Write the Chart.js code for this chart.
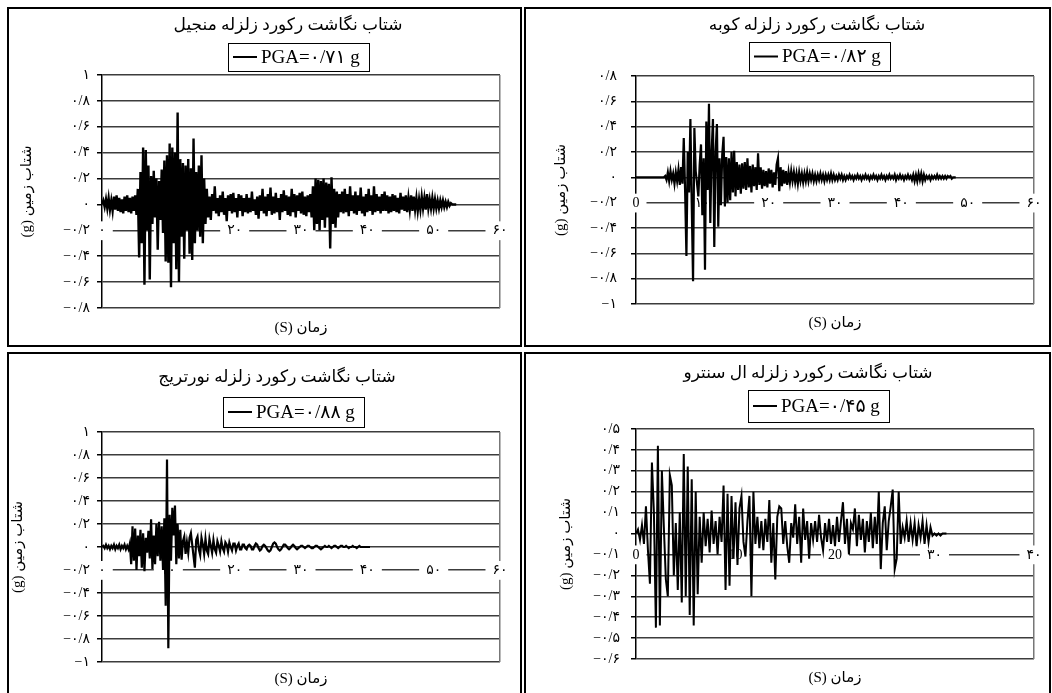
<!DOCTYPE html>
<html lang="fa">
<head>
<meta charset="utf-8">
<title>شتاب نگاشت رکوردهای زلزله</title>
<script src="https://cdn.jsdelivr.net/npm/chart.js@4.4.1/dist/chart.umd.min.js"></script>
<style>
  html, body { margin: 0; padding: 0; background: #fff; }
  body { width: 1052px; height: 693px; position: relative; overflow: hidden; }
  .panel { position: absolute; border: 2px solid #000; background: #fff; }
  .panel canvas { display: block; }
</style>
</head>
<body>
<div class="panel" style="left:7px;top:7px;width:511px;height:336px"><canvas id="chartManjil" width="511" height="336"></canvas></div>
<div class="panel" style="left:524px;top:7px;width:523px;height:336px"><canvas id="chartKobe" width="523" height="336"></canvas></div>
<div class="panel" style="left:7px;top:352px;width:511px;height:339px"><canvas id="chartNorthridge" width="511" height="339"></canvas></div>
<div class="panel" style="left:524px;top:352px;width:523px;height:339px"><canvas id="chartElCentro" width="523" height="339"></canvas></div>

<script>
// =================== DATOS ===================
// Aceleración del suelo (g), un valor cada "paso" segundos, leídos a ojo de la figura

const tituloManjil = 'شتاب نگاشت رکورد زلزله منجیل';
const leyendaManjil = 'PGA=۰/۷۱ g';
const pasoManjil = 0.2;
const aceleracionManjil = [
  0, 0.03, -0.02, 0.04, -0.03, 0.05, -0.04, 0.03, -0.05, 0.06,
  -0.04, 0.07, -0.05, 0.05, -0.06, 0.04, -0.07, 0.06, -0.05, 0.07,
  -0.06, 0.05, -0.07, 0.06, -0.05, 0.07, -0.08, 0.12, -0.41, 0.25,
  -0.3, 0.44, -0.62, 0.42, -0.2, 0.3, -0.58, 0.22, -0.15, 0.26,
  -0.1, 0.2, -0.35, 0.18, -0.12, 0.27, -0.22, 0.34, -0.44, 0.38,
  -0.45, 0.47, -0.64, 0.44, -0.3, 0.4, -0.5, 0.71, -0.6, 0.35,
  -0.25, 0.32, -0.42, 0.3, -0.2, 0.35, -0.38, 0.28, -0.43, 0.51,
  -0.3, 0.25, -0.2, 0.3, -0.25, 0.38, -0.3, 0.2, -0.15, 0.12,
  -0.1, 0.06, -0.12, 0.08, -0.05, 0.14, -0.07, 0.05, -0.09, 0.07,
  -0.06, 0.1, -0.08, 0.05, -0.13, 0.07, -0.05, 0.08, -0.07, 0.09,
  -0.06, 0.05, -0.1, 0.08, -0.05, 0.07, -0.09, 0.05, -0.06, 0.08,
  -0.07, 0.05, -0.06, 0.1, -0.05, 0.04, -0.08, 0.06, -0.11, 0.07,
  -0.05, 0.12, -0.07, 0.06, -0.09, 0.08, -0.05, 0.13, -0.08, 0.06,
  -0.07, 0.09, -0.06, 0.05, -0.12, 0.08, -0.06, 0.11, -0.05, 0.07,
  -0.08, 0.06, -0.09, 0.12, -0.06, 0.08, -0.1, 0.07, -0.05, 0.09,
  -0.07, 0.1, -0.08, 0.06, -0.09, 0.07, -0.06, 0.08, -0.1, 0.14,
  -0.2, 0.2, -0.15, 0.19, -0.2, 0.18, -0.12, 0.2, -0.18, 0.17,
  -0.1, 0.16, -0.34, 0.21, -0.15, 0.12, -0.18, 0.1, -0.1, 0.08,
  -0.06, 0.1, -0.07, 0.12, -0.06, 0.08, -0.09, 0.14, -0.05, 0.07,
  -0.07, 0.1, -0.08, 0.07, -0.05, 0.13, -0.07, 0.06, -0.09, 0.08,
  -0.06, 0.12, -0.05, 0.07, -0.08, 0.14, -0.06, 0.08, -0.05, 0.06,
  -0.07, 0.08, -0.05, 0.1, -0.05, 0.07, -0.07, 0.06, -0.06, 0.08,
  -0.05, 0.07, -0.06, 0.05, -0.07, 0.09, -0.04, 0.06, -0.05, 0.07,
  -0.06, 0.05, -0.04, 0.07, -0.05, 0.06, -0.04, 0.05, -0.05, 0.04,
  -0.04, 0.06, -0.03, 0.05, -0.04, 0.08, -0.03, 0.04, -0.03, 0.05,
  -0.03, 0.04, -0.03, 0.03, -0.03, 0.03, -0.02, 0.03, -0.02, 0.02,
  -0.02, 0.02, -0.01, 0.01, 0, 0, 0, 0
];
const etiquetasYManjil = ['−۰/۸', '−۰/۶', '−۰/۴', '−۰/۲', '۰', '۰/۲', '۰/۴', '۰/۶', '۰/۸', '۱'];
const etiquetasXManjil = ['۰', '۱۰', '۲۰', '۳۰', '۴۰', '۵۰', '۶۰'];

const tituloKobe = 'شتاب نگاشت رکورد زلزله کوبه';
const leyendaKobe = 'PGA=۰/۸۲ g';
const pasoKobe = 0.2;
const aceleracionKobe = [
  0, 0, 0, 0, 0, 0, 0, 0, 0, 0,
  0, 0, 0, 0, 0, 0, 0, 0, 0, 0,
  0, 0, 0.01, -0.02, 0.04, -0.03, 0.05, -0.02, 0.03, -0.05,
  0.04, -0.03, 0.06, -0.06, 0.08, -0.05, 0.31, -0.1, -0.62, 0.2,
  -0.12, 0.46, -0.2, -0.82, 0.39, 0.05, -0.05, -0.15, 0.1, 0.26,
  -0.3, 0.15, -0.73, 0.44, -0.1, 0.58, -0.36, 0.2, 0.46, -0.55,
  0.2, 0.42, -0.39, 0.15, -0.22, 0.18, 0.32, -0.23, 0.16, -0.2,
  0.15, -0.18, 0.2, -0.12, 0.21, -0.15, 0.12, -0.1, 0.1, -0.13,
  0.11, -0.09, 0.12, -0.1, 0.15, -0.08, 0.09, -0.12, 0.1, -0.07,
  0.08, -0.1, 0.19, -0.06, 0.08, -0.09, 0.06, -0.07, 0.05, -0.08,
  0.07, -0.05, 0.06, -0.08, 0.04, -0.06, 0.1, 0.15, -0.11, 0.08,
  -0.07, 0.06, -0.05, 0.05, -0.06, 0.04, -0.04, 0.05, -0.03, 0.04,
  -0.04, 0.03, -0.05, 0.04, -0.03, 0.03, -0.04, 0.03, -0.03, 0.04,
  -0.03, 0.03, -0.02, 0.03, -0.03, 0.02, -0.03, 0.02, -0.02, 0.03,
  -0.02, 0.02, -0.03, 0.02, -0.02, 0.02, -0.02, 0.03, -0.02, 0.02,
  -0.02, 0.01, -0.02, 0.02, -0.01, 0.02, -0.02, 0.01, -0.02, 0.01,
  -0.01, 0.02, -0.01, 0.01, -0.02, 0.01, -0.01, 0.02, -0.01, 0.01,
  -0.02, 0.01, -0.01, 0.02, -0.01, 0.01, -0.02, 0.01, -0.01, 0.02,
  -0.01, 0.01, -0.02, 0.01, -0.01, 0.02, -0.01, 0.01, -0.02, 0.01,
  -0.01, 0.02, -0.01, 0.01, -0.01, 0.02, -0.02, 0.01, -0.01, 0.02,
  -0.01, 0.01, -0.02, 0.01, -0.01, 0.02, -0.01, 0.01, -0.02, 0.02,
  -0.03, 0.02, -0.03, 0.03, -0.02, 0.03, -0.03, 0.02, -0.02, 0.01,
  -0.01, 0.01, -0.02, 0.01, -0.01, 0.01, -0.01, 0.02, -0.01, 0.01,
  -0.01, 0.01, -0.01, 0.01, -0.01, 0.01, 0, 0.01, -0.01, 0,
  0, 0
];
const etiquetasYKobe = ['−۱', '−۰/۸', '−۰/۶', '−۰/۴', '−۰/۲', '۰', '۰/۲', '۰/۴', '۰/۶', '۰/۸'];
const etiquetasXKobe = ['0', '۱۰', '۲۰', '۳۰', '۴۰', '۵۰', '۶۰'];

const tituloNorthridge = 'شتاب نگاشت رکورد زلزله نورتریج';
const leyendaNorthridge = 'PGA=۰/۸۸ g';
const pasoNorthridge = 0.2;
const aceleracionNorthridge = [
  0, 0.01, -0.01, 0.02, -0.01, 0.01, -0.02, 0.01, -0.01, 0.02,
  -0.02, 0.01, -0.01, 0.02, -0.02, 0.01, -0.01, 0.02, -0.02, 0.01,
  -0.02, 0.03, -0.15, 0.18, -0.12, 0.16, -0.2, 0.1, -0.08, 0.15,
  -0.18, 0.12, -0.21, 0.08, -0.05, 0.14, -0.1, 0.24, -0.19, 0.1,
  -0.15, 0.2, -0.08, 0.22, -0.12, 0.18, -0.2, 0.25, -0.51, 0.76,
  -0.88, 0.28, -0.12, 0.34, 0.1, 0.36, -0.15, 0.2, -0.1, 0.15,
  -0.11, 0.05, 0.09, -0.06, 0.04, -0.05, 0.08, 0.12, 0.02, -0.08,
  -0.18, 0.06, 0.09, -0.02, -0.07, 0.08, 0.02, -0.06, 0.07, -0.03,
  -0.06, 0.07, 0.01, -0.05, 0.06, -0.02, -0.05, 0.05, 0.01, -0.04,
  0.05, -0.01, -0.04, 0.04, 0.02, -0.04, 0.04, 0, -0.03, 0.03,
  0.03, -0.03, 0.01, 0.03, -0.02, -0.02, 0.02, 0.02, -0.01, -0.02,
  0.01, 0.02, 0.01, -0.02, -0.02, 0.01, 0.03, 0.02, -0.01, -0.03,
  -0.02, 0.01, 0.02, 0.01, -0.01, -0.03, -0.04, -0.03, 0, 0.03,
  0.04, 0.03, 0, -0.02, -0.03, -0.02, 0, 0.02, 0.02, 0.01,
  -0.01, -0.02, -0.01, 0.01, 0.02, 0.01, -0.01, -0.02, -0.01, 0,
  0.01, 0.01, 0, -0.01, 0, 0.01, 0.01, 0, -0.01, -0.01,
  0, 0.01, 0.01, 0, -0.01, -0.02, -0.01, 0, 0.01, 0,
  0, 0.01, 0, -0.01, 0, 0.01, 0.01, 0, -0.01, 0,
  0.01, 0.01, 0, 0, 0.01, 0, -0.01, 0, 0, 0.01,
  0, 0, -0.01, 0, 0.01, 0, 0, 0, 0, 0,
  0, 0, 0
];
const etiquetasYNorthridge = ['−۱', '−۰/۸', '−۰/۶', '−۰/۴', '−۰/۲', '۰', '۰/۲', '۰/۴', '۰/۶', '۰/۸', '۱'];
const etiquetasXNorthridge = ['۰', '۱۰', '۲۰', '۳۰', '۴۰', '۵۰', '۶۰'];

const tituloElCentro = 'شتاب نگاشت رکورد زلزله ال سنترو';
const leyendaElCentro = 'PGA=۰/۴۵ g';
const pasoElCentro = 0.2;
const aceleracionElCentro = [
  0, 0.02, -0.03, 0.04, -0.05, 0.13, -0.08, -0.24, 0.34, 0.1,
  -0.45, 0.42, -0.44, 0.3, 0.03, -0.22, -0.3, 0.28, 0.23, -0.2,
  0.05, -0.27, 0.1, -0.33, 0.38, -0.3, 0.32, -0.39, 0.26, -0.44,
  0.2, -0.29, 0.08, -0.14, 0.1, -0.06, 0.07, -0.09, 0.11, -0.05,
  0.06, -0.1, 0.08, -0.04, 0.23, -0.27, 0.19, -0.25, 0.18, -0.12,
  0.15, -0.15, 0.12, 0.18, -0.04, -0.11, 0.06, 0.18, -0.3, 0.2,
  -0.05, 0.08, -0.07, 0.06, -0.08, 0.07, -0.04, 0.16, -0.14, 0.05,
  -0.22, 0.08, 0.13, 0.12, -0.05, 0.06, -0.06, -0.14, 0.05, -0.02,
  0.14, -0.05, 0.08, -0.14, 0.12, -0.03, 0.06, -0.12, 0.05, -0.03,
  0.06, -0.04, 0.09, -0.02, -0.08, 0.05, -0.04, 0.07, -0.05, 0.04,
  -0.06, 0.08, -0.04, 0.06, 0.15, -0.05, 0.07, -0.1, 0.05, 0.02,
  0.12, -0.06, 0.09, -0.03, 0.07, -0.09, 0.06, -0.04, 0.1, -0.07,
  0.08, -0.05, 0.2, -0.17, 0.05, 0.13, -0.08, 0.06, 0.13, 0.21,
  -0.17, -0.12, 0.2, -0.05, 0.03, -0.02, 0.06, -0.04, 0.05, -0.03,
  0.05, -0.06, 0.04, -0.02, 0.06, -0.05, 0.04, -0.04, 0.03, -0.01,
  0, -0.01, 0, -0.01, 0, 0, 0
];
const etiquetasYElCentro = ['−۰/۶', '−۰/۵', '−۰/۴', '−۰/۳', '−۰/۲', '−۰/۱', '۰', '۰/۱', '۰/۲', '۰/۳', '۰/۴', '۰/۵'];
const etiquetasXElCentro = ['0', '10', '20', '۳۰', '۴۰'];

// títulos de ejes (RLE ... PDF para que el paréntesis quede a la izquierda)
const tituloEjeY = '\u202Bشتاب زمین (g)\u202C';
const tituloEjeX = '\u202Bزمان (S)\u202C';

// =================== ESTILO ===================
const FUENTE = '"Liberation Serif", "DejaVu Sans", serif';
const GRIS = '#3c3c3c';

// título + leyenda enmarcada (como en Excel)
const pluginEncabezado = {
  id: 'encabezado',
  afterDraw(chart, args, op) {
    const { ctx, chartArea } = chart;
    const centro = (chartArea.left + chartArea.right) / 2;
    ctx.save();
    ctx.fillStyle = '#000';
    ctx.textBaseline = 'middle';

    ctx.font = '17px ' + FUENTE;
    ctx.textAlign = 'center';
    ctx.direction = 'rtl';
    ctx.fillText(op.titulo, centro + op.desplTitulo, op.yTitulo);

    const texto = chart.data.datasets[0].label;
    ctx.direction = 'ltr';
    ctx.font = '19px ' + FUENTE;
    const anchoTexto = ctx.measureText(texto).width;
    const ancho = 33 + anchoTexto + 9;
    const x0 = Math.round(centro + op.desplLeyenda - ancho / 2);
    const y0 = op.yLeyenda;
    ctx.strokeStyle = '#000';
    ctx.lineWidth = 1;
    ctx.strokeRect(x0 + 0.5, y0 + 0.5, Math.round(ancho), op.altoLeyenda);
    const ym = y0 + op.altoLeyenda / 2;
    ctx.lineWidth = 2;
    ctx.beginPath();
    ctx.moveTo(x0 + 5, ym);
    ctx.lineTo(x0 + 29, ym);
    ctx.stroke();
    ctx.textAlign = 'left';
    ctx.fillText(texto, x0 + 33, ym + 1);
    ctx.restore();
  }
};

// =================== GRÁFICOS ===================
function crearGrafico(idCanvas, cfg) {
  const puntos = cfg.valores.map((a, i) => ({ x: +(i * cfg.paso).toFixed(2), y: a }));
  const fuenteEje = { family: FUENTE, size: 15 };
  const fuenteTicks = { family: FUENTE, size: 14 };

  return new Chart(document.getElementById(idCanvas), {
    type: 'line',
    data: {
      datasets: [{
        label: cfg.leyenda,
        data: puntos,
        borderColor: '#000',
        borderWidth: cfg.grosor,
        pointRadius: 0,
        tension: 0,
        fill: false
      }]
    },
    options: {
      responsive: false,
      animation: false,
      events: [],
      layout: { padding: cfg.relleno },
      plugins: {
        legend: { display: false },
        tooltip: { enabled: false },
        encabezado: cfg.encabezado
      },
      scales: {
        y: {
          type: 'linear',
          min: cfg.yMin,
          max: cfg.yMax,
          afterFit: s => { s.width = cfg.anchoEjeY; },
          ticks: {
            stepSize: cfg.yPaso,
            callback: (v, i) => cfg.etiquetasY[i],
            font: fuenteTicks,
            color: '#000',
            padding: cfg.padTicksY
          },
          grid: { color: GRIS, lineWidth: 1.5, tickColor: '#000', tickLength: 5 },
          border: { color: '#000', width: 1.5, z: -1 },
          title: { display: true, text: tituloEjeY, font: fuenteEje, color: '#000', padding: 0 }
        },
        x: {
          type: 'linear',
          position: 'bottom',
          min: 0,
          max: cfg.xMax,
          afterFit: s => { s.height = cfg.altoEjeX; },
          ticks: { display: false, stepSize: 10 },
          grid: {
            drawTicks: false,
            lineWidth: 1.5,
            color: c => (c.tick && c.tick.value === cfg.xMax ? '#777' : 'rgba(0,0,0,0)')
          },
          border: { display: false },
          title: { display: true, text: tituloEjeX, font: fuenteEje, color: '#000', padding: 0 }
        },
        // etiquetas del tiempo sobre la línea negativa, con fondo blanco
        x2: {
          type: 'linear',
          position: { y: cfg.yEtiquetasX },
          min: 0,
          max: cfg.xMax,
          ticks: {
            stepSize: 10,
            callback: (v, i) => cfg.etiquetasX[i],
            font: fuenteTicks,
            color: '#000',
            padding: -8,
            showLabelBackdrop: true,
            backdropColor: '#fff',
            backdropPadding: { left: 7, right: 7, top: 1, bottom: 1 }
          },
          grid: { display: false, drawTicks: false },
          border: { display: false }
        }
      }
    },
    plugins: [pluginEncabezado]
  });
}

document.addEventListener('DOMContentLoaded', () => {
  crearGrafico('chartManjil', {
    leyenda: leyendaManjil, valores: aceleracionManjil, paso: pasoManjil, grosor: 2.4,
    yMin: -0.8, yMax: 1, yPaso: 0.2, etiquetasY: etiquetasYManjil,
    xMax: 60, etiquetasX: etiquetasXManjil, yEtiquetasX: -0.2,
    relleno: { left: 9, right: 20, top: 66, bottom: 8 },
    anchoEjeY: 84, altoEjeX: 29, padTicksY: 7,
    encabezado: { titulo: tituloManjil, yTitulo: 17, desplTitulo: -13, desplLeyenda: -3, yLeyenda: 34, altoLeyenda: 28 }
  });

  crearGrafico('chartKobe', {
    leyenda: leyendaKobe, valores: aceleracionKobe, paso: pasoKobe, grosor: 2.2,
    yMin: -1, yMax: 0.8, yPaso: 0.2, etiquetasY: etiquetasYKobe,
    xMax: 60, etiquetasX: etiquetasXKobe, yEtiquetasX: -0.2,
    relleno: { left: 26, right: 15, top: 67, bottom: 13 },
    anchoEjeY: 84, altoEjeX: 28, padTicksY: 14,
    encabezado: { titulo: tituloKobe, yTitulo: 17, desplTitulo: -18, desplLeyenda: -16, yLeyenda: 33, altoLeyenda: 29 }
  });

  crearGrafico('chartNorthridge', {
    leyenda: leyendaNorthridge, valores: aceleracionNorthridge, paso: pasoNorthridge, grosor: 2.2,
    yMin: -1, yMax: 1, yPaso: 0.2, etiquetasY: etiquetasYNorthridge,
    xMax: 60, etiquetasX: etiquetasXNorthridge, yEtiquetasX: -0.2,
    relleno: { left: 0, right: 20, top: 78, bottom: 5 },
    anchoEjeY: 93, altoEjeX: 26, padTicksY: 7,
    encabezado: { titulo: tituloNorthridge, yTitulo: 24, desplTitulo: -24, desplLeyenda: -8, yLeyenda: 43, altoLeyenda: 30 }
  });

  crearGrafico('chartElCentro', {
    leyenda: leyendaElCentro, valores: aceleracionElCentro, paso: pasoElCentro, grosor: 2,
    yMin: -0.6, yMax: 0.5, yPaso: 0.1, etiquetasY: etiquetasYElCentro,
    xMax: 40, etiquetasX: etiquetasXElCentro, yEtiquetasX: -0.1,
    relleno: { left: 31, right: 15, top: 75, bottom: 6 },
    anchoEjeY: 79, altoEjeX: 28, padTicksY: 11,
    encabezado: { titulo: tituloElCentro, yTitulo: 20, desplTitulo: -27, desplLeyenda: -17, yLeyenda: 36, altoLeyenda: 32 }
  });
});
</script>
</body>
</html>
